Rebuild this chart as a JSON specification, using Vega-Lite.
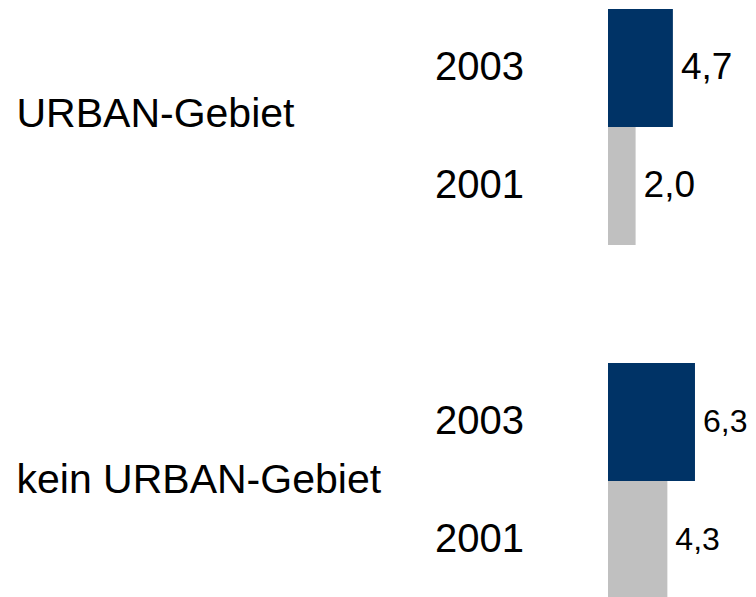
{
  "$schema": "https://vega.github.io/schema/vega-lite/v6.json",
  "autosize": "none",
  "width": 148,
  "height": 590,
  "padding": {"left": 608, "top": 9, "right": 0, "bottom": 0},
  "background": "white",
  "config": {
    "view": {"stroke": null},
    "font": "Liberation Sans",
    "locale": {"number": {"decimal": ",", "thousands": ".", "grouping": [3], "currency": ["", " €"]}}
  },
  "data": {
    "values": [
      {"group": "URBAN-Gebiet", "year": "2003", "value": 4.7},
      {"group": "URBAN-Gebiet", "year": "2001", "value": 2.0},
      {"group": "kein URBAN-Gebiet", "year": "2003", "value": 6.3},
      {"group": "kein URBAN-Gebiet", "year": "2001", "value": 4.3}
    ]
  },
  "encoding": {
    "y": {
      "field": "group",
      "type": "nominal",
      "sort": ["URBAN-Gebiet", "kein URBAN-Gebiet"],
      "scale": {"paddingInner": 0.3333, "paddingOuter": 0},
      "axis": {
        "title": null,
        "domain": false,
        "ticks": false,
        "labelAlign": "left",
        "labelPadding": 592,
        "labelFontSize": 41,
        "labelColor": "black",
        "labelFont": "Liberation Sans",
        "labelLimit": 1000,
        "labelBaseline": "middle",
        "labelOffset": {"condition": {"test": "datum.value === 'URBAN-Gebiet'", "value": -12}, "value": 0}
      }
    },
    "yOffset": {
      "field": "year",
      "type": "nominal",
      "sort": ["2003", "2001"],
      "scale": {"paddingInner": 0, "paddingOuter": 0}
    }
  },
  "layer": [
    {
      "mark": {"type": "bar", "cornerRadius": 0},
      "encoding": {
        "x": {"field": "value", "type": "quantitative", "scale": {"domain": [0, 10.72], "nice": false, "zero": true}, "axis": null},
        "color": {"field": "year", "type": "nominal", "scale": {"domain": ["2003", "2001"], "range": ["#003366", "#C0C0C0"]}, "legend": null}
      }
    },
    {
      "mark": {"type": "text", "align": "left", "baseline": "middle", "dx": 8, "color": "black"},
      "encoding": {
        "x": {"field": "value", "type": "quantitative"},
        "text": {"field": "value", "type": "quantitative", "format": ".1f"},
        "size": {"condition": {"test": "datum.group === 'URBAN-Gebiet'", "value": 37}, "value": 32}
      }
    },
    {
      "mark": {"type": "text", "align": "right", "baseline": "middle", "dx": -84, "fontSize": 40, "color": "black"},
      "encoding": {
        "x": {"datum": 0, "type": "quantitative"},
        "text": {"field": "year", "type": "nominal"}
      }
    }
  ]
}
